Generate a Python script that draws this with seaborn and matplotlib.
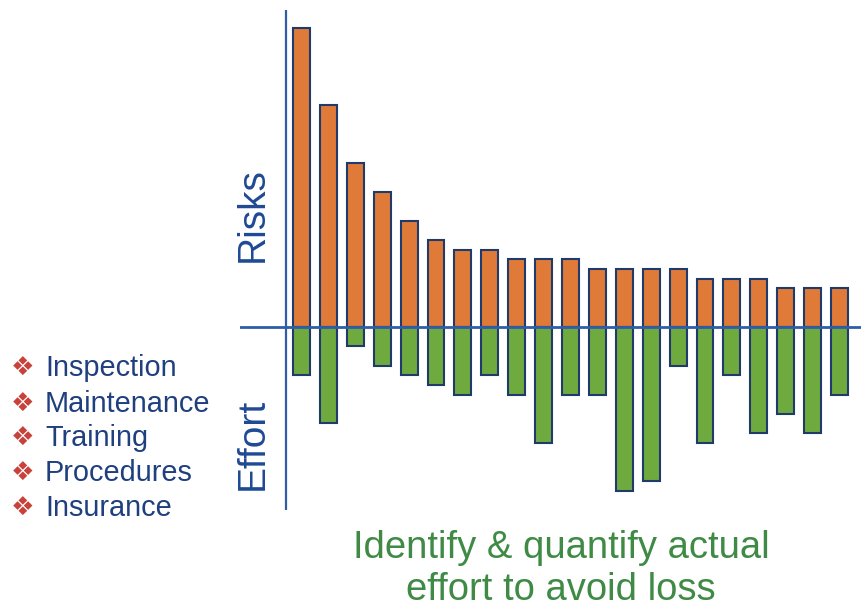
import matplotlib
matplotlib.use("Agg")
import matplotlib.pyplot as plt
import seaborn as sns
import pandas as pd
import numpy as np

# ---- data ----
categories = [f"C{i+1}" for i in range(21)]
risks = [31, 23, 17, 14, 11, 9, 8, 8, 7, 7, 7, 6, 6, 6, 6, 5, 5, 5, 4, 4, 4]
effort = [5, 10, 2, 4, 5, 6, 7, 5, 7, 12, 7, 7, 17, 16, 4, 12, 5, 11, 9, 11, 7]
measures = ["Inspection", "Maintenance", "Training", "Procedures", "Insurance"]

sns.set_theme(style="white")
plt.rcParams['font.family'] = ['Liberation Sans', 'DejaVu Sans']

W, H = 861, 609
fig = plt.figure(figsize=(W / 100, H / 100), dpi=100)

# axes spanning pixel x 240..861, y 10..510
ax = fig.add_axes([240 / W, 1 - 510 / H, (861 - 240) / W, 500 / H])

df = pd.DataFrame({"cat": categories, "risk": risks,
                   "effort": [-e for e in effort]})

edge = "#1F3A6B"
sns.barplot(data=df, x="cat", y="risk", color="#E07A38", saturation=1,
            width=0.63, edgecolor=edge, linewidth=1.5, ax=ax)
sns.barplot(data=df, x="cat", y="effort", color="#6FAA3E", saturation=1,
            width=0.63, edgecolor=edge, linewidth=1.5, ax=ax)

px = 26.9
x0 = -(301.5 - 240) / px
x1 = (861 - 301.5) / px
ax.set_xlim(x0, x1)
unit = 9.65
ax.set_ylim(-(510 - 327) / unit, (327 - 10) / unit)

ax.axhline(0, color="#2F5EA8", lw=2.0, zorder=5)
ax.axvline((286 - 301.5) / px, color="#2F5EA8", lw=1.6, zorder=5)

for s in ax.spines.values():
    s.set_visible(False)
ax.set_xticks([])
ax.set_yticks([])
ax.set_xlabel("")
ax.set_ylabel("")
ax.patch.set_alpha(0)

blue = "#1F4A94"
fig.text(253 / W, 1 - 215 / H, "Risks", rotation=90, color=blue,
         fontsize=28, ha="center", va="center")
fig.text(253 / W, 1 - 444 / H, "Effort", rotation=90, color=blue,
         fontsize=28, ha="center", va="center")

ys = [368, 404, 438, 473, 508]
for name, y in zip(measures, ys):
    fig.text(23 / W, 1 - y / H, "\u2756", color="#C8413A", fontsize=19,
             ha="center", va="center", family=["DejaVu Sans"])
    fig.text(45 / W, 1 - y / H, name, color="#1F3F7F", fontsize=20.8,
             ha="left", va="center")

green = "#3F8A45"
fig.text(561 / W, 1 - 548 / H, "Identify & quantify actual", color=green,
         fontsize=27.5, ha="center", va="center")
fig.text(561 / W, 1 - 590 / H, "effort to avoid loss", color=green,
         fontsize=27.5, ha="center", va="center")

fig.savefig("out.png", dpi=100, facecolor="white")
